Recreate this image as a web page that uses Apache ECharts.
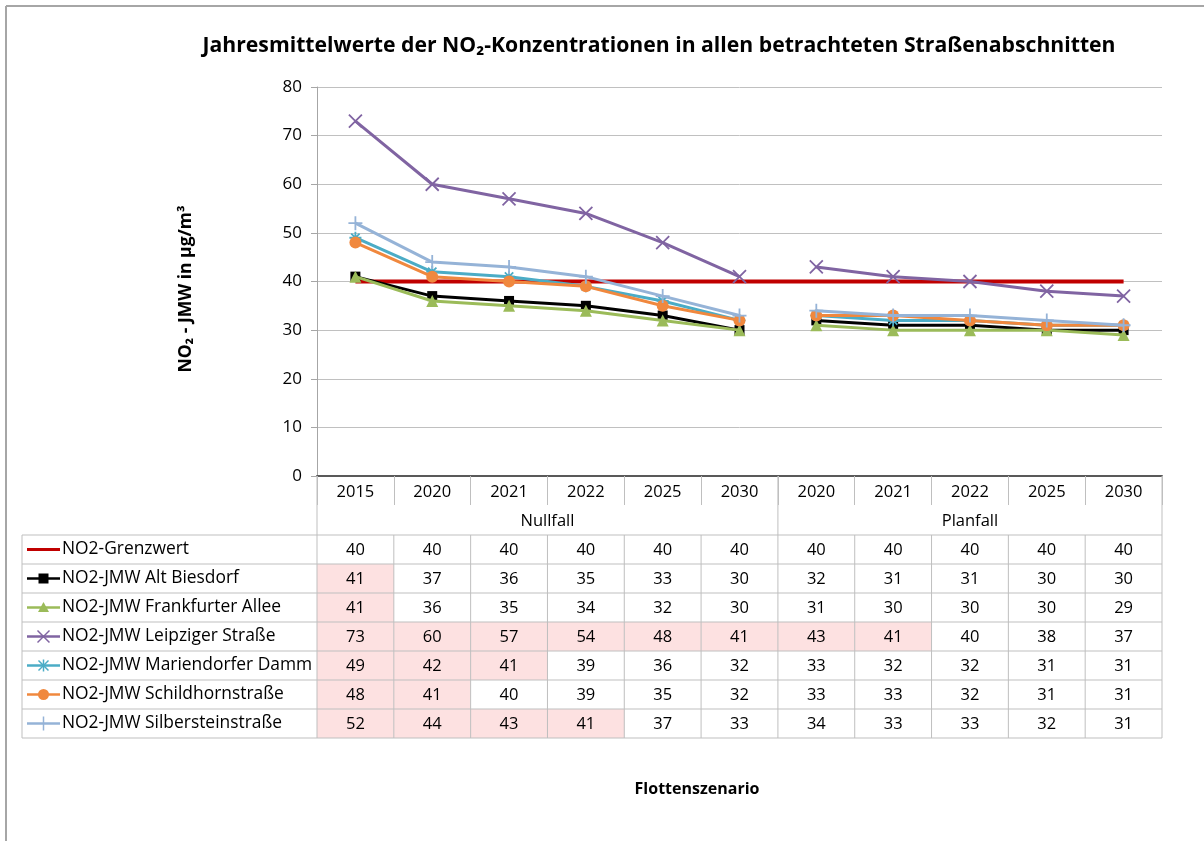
<!DOCTYPE html>
<html>
<head>
<meta charset="utf-8">
<script src="https://cdn.jsdelivr.net/npm/echarts@6/dist/echarts.min.js"></script>
<style>
html,body{margin:0;padding:0;background:#fff;}
#main{width:1204px;height:841px;}
</style>
</head>
<body>
<div id="main"></div>
<script>
// ---------- DATA ----------
const years = ['2015','2020','2021','2022','2025','2030','2020','2021','2022','2025','2030'];
const groupNames = ['Nullfall','Planfall'];
const groupSizes = [6,5];
const seriesNames = ['NO2-Grenzwert','NO2-JMW Alt Biesdorf','NO2-JMW Frankfurter Allee','NO2-JMW Leipziger Straße','NO2-JMW Mariendorfer Damm','NO2-JMW Schildhornstraße','NO2-JMW Silbersteinstraße'];
const grenzwert    = [40,40,40,40,40,40,40,40,40,40,40];
const altBiesdorf  = [41,37,36,35,33,30,32,31,31,30,30];
const frankfurter  = [41,36,35,34,32,30,31,30,30,30,29];
const leipziger    = [73,60,57,54,48,41,43,41,40,38,37];
const mariendorfer = [49,42,41,39,36,32,33,32,32,31,31];
const schildhorn   = [48,41,40,39,35,32,33,33,32,31,31];
const silberstein  = [52,44,43,41,37,33,34,33,33,32,31];
const yTicks = [0,10,20,30,40,50,60,70,80];

// ---------- STYLE ----------
const FONT = '"Open Sans", "Noto Sans", sans-serif';
const allValues = [grenzwert, altBiesdorf, frankfurter, leipziger, mariendorfer, schildhorn, silberstein];
const colors = ['#C00000','#000000','#9BBB59','#8064A2','#4BACC6','#F0883E','#95B3D7'];
const symX = 'path://M0,0L10,10M0,10L10,0';
const symPlus = 'path://M5,0L5,10M0,5L10,5';
const symStar = 'path://M5,0L5,10M0,5L10,5M1.5,1.5L8.5,8.5M1.5,8.5L8.5,1.5';
const symbols = ['none','rect','triangle',symX,symStar,'circle',symPlus];
const symSizes = [0,10,12,13,12,12,14];
const strokeSym = [false,false,false,true,true,false,true];

const chart = echarts.init(document.getElementById('main'), null, {renderer:'canvas'});

const series = [];
allValues.forEach((vals, si) => {
  const base = {
    type: 'line',
    name: seriesNames[si],
    symbol: symbols[si],
    symbolSize: symSizes[si],
    showSymbol: si !== 0,
    lineStyle: {color: colors[si], width: si === 0 ? 4 : 3},
    itemStyle: strokeSym[si]
      ? {color: 'rgba(0,0,0,0)', borderColor: colors[si], borderWidth: 1.8}
      : {color: colors[si], borderWidth: 0},
    z: 2 + si,
    animation: false,
    emphasis: {disabled: true}
  };
  if (si === 0) {
    series.push(Object.assign({}, base, {data: vals.slice()}));
  } else {
    let start = 0;
    groupSizes.forEach(n => {
      const d = vals.map((v, i) => (i >= start && i < start + n) ? v : null);
      series.push(Object.assign({}, base, {data: d}));
      start += n;
    });
  }
});

const GRID = {left: 317, right: 42, top: 87, bottom: 365};

chart.setOption({
  animation: false,
  grid: GRID,
  xAxis: {
    type: 'category',
    data: years,
    boundaryGap: true,
    axisLine: {lineStyle: {color: '#595959', width: 2}},
    axisTick: {show: true, length: 29, lineStyle: {color: '#BFBFBF', width: 1}},
    axisLabel: {color: '#000', fontSize: 16.5, fontFamily: FONT, margin: 8, interval: 0},
    splitLine: {show: false}
  },
  yAxis: {
    type: 'value',
    min: 0, max: 80, interval: 10,
    axisLine: {show: true, lineStyle: {color: '#A6A6A6', width: 1}},
    axisTick: {show: true, length: 6, lineStyle: {color: '#A6A6A6'}},
    axisLabel: {color: '#000', fontSize: 17, fontFamily: FONT, margin: 15,
      formatter: v => yTicks.indexOf(v) >= 0 ? String(v) : ''},
    splitLine: {lineStyle: {color: '#C0C0C0', width: 1}}
  },
  series: series
});

// ---------- TABLE & TEXT (positions from the axis scale) ----------
const centers = years.map((y, i) => chart.convertToPixel({xAxisIndex: 0}, i));
const cw = centers[1] - centers[0];
const xLeft = centers[0] - cw / 2;
const xRight = centers[centers.length - 1] + cw / 2;
const yAxis0 = chart.convertToPixel({yAxisIndex: 0}, 0);
const headerBottom = yAxis0 + 29;
const groupBottom = yAxis0 + 59;
const rowH = 29;
const labelLeft = 22;
const lineC = '#BFBFBF';
const g = [];

function line(x1,y1,x2,y2,color,w){
  g.push({type:'line', silent:true, z:10, shape:{x1,y1,x2,y2}, style:{stroke:color||lineC, lineWidth:w||1}});
}
function text(t,x,y,opts){
  g.push(Object.assign({type:'text', silent:true, z:20, x, y,
    style:Object.assign({text:t, x:0, y:0, fill:'#000', fontSize:16.5, fontFamily:FONT, align:'center', verticalAlign:'middle'}, (opts||{}).style||{})},
    (opts||{}).el||{}));
}

// pink cells (values above limit)
allValues.forEach((vals, si) => {
  if (si === 0) return;
  vals.forEach((v, i) => {
    if (v > grenzwert[i]) {
      g.push({type:'rect', silent:true, z:5, shape:{x:centers[i]-cw/2, y:groupBottom+si*rowH, width:cw, height:rowH}, style:{fill:'#FDE1E1'}});
    }
  });
});

// group row
let st = 0;
groupSizes.forEach((n, gi) => {
  const x1 = centers[st] - cw/2, x2 = centers[st+n-1] + cw/2;
  text(groupNames[gi], (x1+x2)/2, (headerBottom+groupBottom)/2 + 1);
  if (st > 0) line(x1, yAxis0, x1, groupBottom);
  st += n;
});

// grid lines of table
const tableBottom = groupBottom + allValues.length * rowH;
line(xLeft, yAxis0, xLeft, tableBottom);
line(xRight, yAxis0, xRight, tableBottom);
line(labelLeft, groupBottom, labelLeft, tableBottom);
for (let r = 0; r <= allValues.length; r++) {
  line(labelLeft, groupBottom + r*rowH, xRight, groupBottom + r*rowH);
}
for (let i = 1; i < centers.length; i++) {
  const x = centers[i] - cw/2;
  line(x, groupBottom, x, tableBottom);
}

// values + row labels with keys
allValues.forEach((vals, si) => {
  const yc = groupBottom + si*rowH + rowH/2;
  vals.forEach((v, i) => text(String(v), centers[i], yc + 1));
  text(seriesNames[si], 62, yc, {style:{align:'left', fontSize:17.4}});
  const c = colors[si];
  line(27, yc, 60, yc, c, si === 0 ? 3 : 2.5);
  const kx = 43.5;
  if (symbols[si] === 'rect') g.push({type:'rect', silent:true, z:21, shape:{x:kx-5,y:yc-5,width:10,height:10}, style:{fill:c}});
  else if (symbols[si] === 'triangle') g.push({type:'polygon', silent:true, z:21, shape:{points:[[kx,yc-5.5],[kx+5.5,yc+4.5],[kx-5.5,yc+4.5]]}, style:{fill:c}});
  else if (symbols[si] === 'circle') g.push({type:'circle', silent:true, z:21, shape:{cx:kx,cy:yc,r:5.5}, style:{fill:c}});
  else if (symbols[si] === symX) { line(kx-6,yc-6,kx+6,yc+6,c,1.5); line(kx-6,yc+6,kx+6,yc-6,c,1.5); }
  else if (symbols[si] === symPlus) { line(kx,yc-7,kx,yc+7,c,1.5); }
  else if (symbols[si] === symStar) { line(kx,yc-6,kx,yc+6,c,1.5); line(kx-5,yc-5,kx+5,yc+5,c,1.5); line(kx-5,yc+5,kx+5,yc-5,c,1.5); }
});

// titles and frame
text('Jahresmittelwerte der NO\u2082-Konzentrationen in allen betrachteten Straßenabschnitten', 659, 46,
  {style:{fontSize:21.2, fontWeight:'bold'}});
text('NO\u2082 - JMW in µg/m³', 186, 289, {style:{fontSize:17.5, fontWeight:'bold'}, el:{rotation: Math.PI/2}});
text('Flottenszenario', 697, 789, {style:{fontSize:16, fontWeight:'bold'}});
line(6, 6, 1204, 6, '#A6A6A6', 2);
line(6, 6, 6, 841, '#A6A6A6', 2);

chart.setOption({graphic: {elements: g}});
</script>
</body>
</html>
